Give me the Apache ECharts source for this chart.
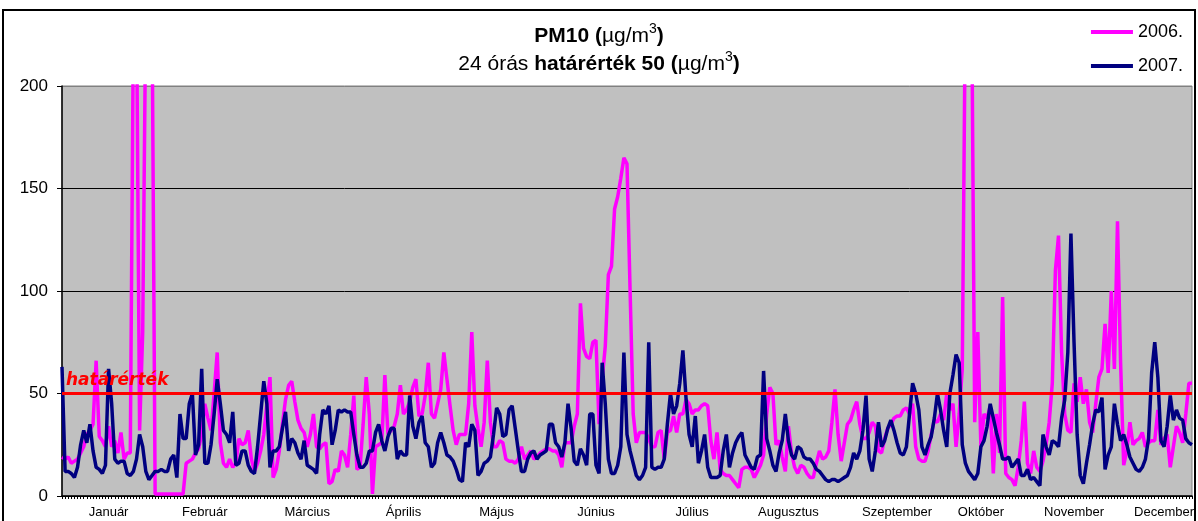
<!DOCTYPE html>
<html>
<head>
<meta charset="utf-8">
<title>PM10</title>
<script src="https://cdn.jsdelivr.net/npm/echarts@6/dist/echarts.min.js"></script>
<style>
  html, body { margin: 0; padding: 0; background: #fff; }
  #chart { width: 1198px; height: 521px; }
</style>
</head>
<body>
<div id="chart"></div>
<script>
// napi PM10 értékek (µg/m3), 365 nap
const pm2006 = [
  19,18,19,16,17,18,21,24,30,32,
  35,66,29,27,24,34,24,27,21,31,
  18,21,21,230,240,32,80,240,250,240,
  1,1,1,1,1,1,1,1,1,1,
  16,17,18,21,23,30,45,38,32,50,
  70,26,16,14,18,14,16,28,25,26,
  32,18,12,16,22,30,45,58,9,13,
  22,35,47,54,56,46,37,33,31,24,
  30,40,24,23,25,26,6,7,13,12,
  22,20,14,30,49,13,14,35,58,40,
  1,24,25,26,59,30,32,34,40,54,
  40,42,46,53,57,39,40,49,65,40,
  38,45,52,70,57,44,32,25,30,30,
  30,45,80,44,33,24,36,66,36,24,
  24,27,26,18,17,17,16,18,24,18,
  20,22,18,19,21,22,23,23,22,22,
  20,14,26,26,26,34,40,94,72,68,
  67,75,76,35,57,73,108,112,140,146,
  155,165,162,100,40,26,31,31,31,28,
  24,24,31,32,18,31,32,39,31,40,
  40,47,45,40,42,42,44,45,44,27,
  18,31,13,11,10,10,8,6,4,13,
  14,14,13,9,12,15,20,40,53,50,
  25,27,19,12,34,21,14,11,15,14,
  11,9,9,16,22,18,19,22,36,52,
  30,17,26,35,37,42,46,35,28,28,
  31,36,34,22,21,28,33,35,38,39,
  39,42,43,40,45,24,18,17,17,22,
  30,37,36,40,37,50,42,45,24,40,
  62,240,260,250,36,80,24,40,38,44,
  11,40,21,97,11,9,8,5,14,27,
  46,16,11,22,14,12,17,25,36,55,
  110,127,70,40,32,31,55,46,58,45,
  52,36,31,45,58,62,84,60,100,62,
  134,65,15,22,36,25,27,28,31,24,
  26,27,27,42,25,28,30,14,24,34,
  31,26,40,55,55
]
const pm2007 = [
  63,12,12,11,9,14,25,32,26,35,
  22,14,13,11,15,62,45,18,16,17,
  17,11,10,12,18,30,24,12,8,10,
  12,12,13,12,12,18,20,9,40,28,
  28,45,50,20,25,62,16,16,25,40,
  57,45,32,30,26,41,15,16,22,22,
  15,12,11,24,40,56,45,14,22,22,
  24,33,41,22,28,26,21,18,27,15,
  14,13,11,30,42,40,44,25,32,42,
  41,42,41,41,30,20,14,14,16,22,
  22,31,35,27,22,29,33,33,18,22,
  20,20,49,34,28,36,39,26,24,14,
  16,26,31,26,20,19,17,13,8,7,
  26,24,35,32,10,12,16,17,19,30,
  43,40,29,30,42,44,33,22,12,12,
  18,21,22,18,20,21,22,35,35,26,
  24,19,26,45,33,17,15,23,20,15,
  40,40,15,11,65,45,18,11,11,15,
  24,70,30,22,16,10,8,10,14,75,
  14,13,14,14,18,35,50,40,44,55,
  71,48,30,24,39,16,22,30,14,9,
  9,9,10,22,30,14,21,26,29,31,
  20,17,14,13,19,20,61,28,22,15,
  12,21,27,40,27,20,18,24,23,19,
  18,18,16,13,12,10,8,7,8,8,
  7,8,9,10,14,21,18,22,32,49,
  18,12,22,36,24,27,33,37,32,26,
  21,20,24,40,55,50,42,24,20,25,
  29,38,50,42,32,24,50,59,69,65,
  25,16,12,10,8,11,24,27,34,45,
  38,31,25,18,18,19,14,16,18,10,
  10,13,8,9,7,5,30,24,20,27,
  26,24,38,47,70,128,75,30,10,6,
  16,25,35,42,41,48,13,20,24,45,
  35,27,30,25,19,16,13,12,14,18,
  28,60,75,58,27,24,34,49,37,42,
  38,37,28,26,25
]
// hónapnevek és hogy melyik napnál állnak a tengelyen
const monthLabels = ['Január', 'Február', 'Március', 'Április', 'Május', 'Június',
  'Július', 'Augusztus', 'Szeptember', 'Október', 'November', 'December']
const monthLabelIdx = [15, 46, 79, 110, 140, 172, 203, 234, 269, 296, 326, 355]
const limitValue = 50
const days = pm2006.map((v, i) => String(i + 1))

const font = 'Liberation Sans, Arial, sans-serif'
const chart = echarts.init(document.getElementById('chart'))

// cím: félkövér / normál részek, felső index a köbméterhez
const titleText = '{b|PM10 (}{n|µg/m}{s|3}{b|)}\n' +
  '{n|24 órás }{b|határérték 50 (}{n|µg/m}{s|3}{b|)}'

chart.setOption({
  animation: false,
  backgroundColor: '#fff',
  textStyle: { fontFamily: font, color: '#000' },
  title: {
    left: 'center',
    top: 17,
    text: titleText,
    textStyle: {
      lineHeight: 28,
      rich: {
        b: { fontFamily: font, fontSize: 21, fontWeight: 'bold', color: '#000', lineHeight: 28 },
        n: { fontFamily: font, fontSize: 21, fontWeight: 'normal', color: '#000', lineHeight: 28 },
        s: { fontFamily: font, fontSize: 14, fontWeight: 'normal', color: '#000', lineHeight: 22, verticalAlign: 'top' }
      }
    }
  },
  legend: {
    orient: 'vertical',
    right: 10,
    top: 18,
    itemWidth: 42,
    itemHeight: 4,
    itemGap: 16,
    icon: 'rect',
    textStyle: { fontFamily: font, fontSize: 18, color: '#000' },
    data: ['2006.', '2007.']
  },
  graphic: [{
    type: 'rect',
    shape: { x: 3, y: 10, width: 1192, height: 530 },
    style: { fill: 'none', stroke: '#000', lineWidth: 2 },
    z: 100
  }],
  grid: {
    left: 62,
    right: 6,
    top: 86,
    bottom: 25,
    show: true,
    backgroundColor: '#c0c0c0',
    borderColor: '#808080',
    borderWidth: 1
  },
  xAxis: {
    type: 'category',
    data: days,
    boundaryGap: false,
    axisLine: { lineStyle: { color: '#000', width: 1.5 } },
    axisTick: { show: true, interval: 0, length: 3, lineStyle: { color: '#000' } },
    axisLabel: {
      interval: (i) => monthLabelIdx.includes(i),
      formatter: (v, i) => monthLabels[monthLabelIdx.indexOf(i)] || '',
      fontSize: 13,
      margin: 10,
      color: '#000'
    },
    splitLine: { show: false }
  },
  yAxis: {
    type: 'value',
    min: 0,
    max: 200,
    interval: 50,
    axisLine: { show: true, lineStyle: { color: '#000', width: 1.5 } },
    axisTick: { show: true, length: 5, lineStyle: { color: '#000' } },
    axisLabel: { fontSize: 17, margin: 14, color: '#000' },
    splitLine: { lineStyle: { color: ['#000', '#000', '#000', '#000', '#808080'], width: 1 } }
  },
  series: [
    {
      name: '2006.',
      type: 'line',
      data: pm2006,
      showSymbol: false,
      symbol: 'none',
      color: '#ff00ff',
      lineStyle: { color: '#ff00ff', width: 3.5 }
    },
    {
      name: '2007.',
      type: 'line',
      data: pm2007,
      showSymbol: false,
      symbol: 'none',
      color: '#000080',
      lineStyle: { color: '#000080', width: 3.5 },
      markLine: {
        silent: true,
        symbol: 'none',
        lineStyle: { color: '#ff0000', width: 3, type: 'solid' },
        label: {
          show: true,
          position: 'insideStartTop',
          formatter: 'határérték',
          color: '#ff0000',
          fontFamily: 'DejaVu Sans',
          fontStyle: 'italic',
          fontWeight: 'bold',
          fontSize: 17,
          padding: [0, 0, 0, 4],
          distance: [0, 4]
        },
        data: [{ yAxis: limitValue }]
      }
    }
  ]
})
</script>
</body>
</html>
